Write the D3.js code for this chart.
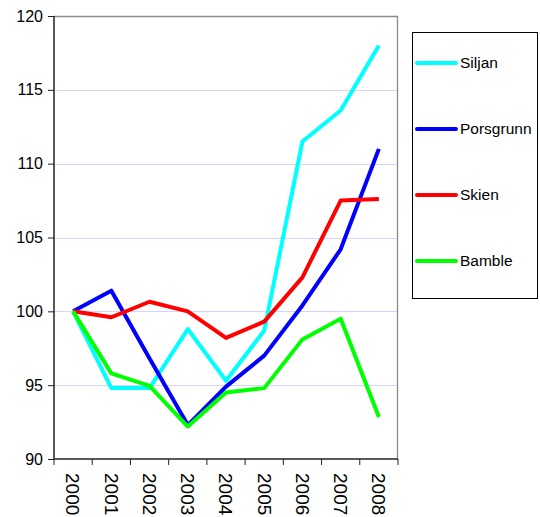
<!DOCTYPE html>
<html>
<head>
<meta charset="utf-8">
<script src="https://cdn.jsdelivr.net/npm/d3@7"></script>
<style>
  body { margin: 0; background: #fff; }
  text { font-family: "Liberation Sans", Arial, sans-serif; fill: #000; }
</style>
</head>
<body>
<div id="chart"></div>
<script>
// chart data
var years = ["2000", "2001", "2002", "2003", "2004", "2005", "2006", "2007", "2008"];
var seriesNames = ["Siljan", "Porsgrunn", "Skien", "Bamble"];
var seriesColors = ["#00ffff", "#0000ff", "#ff0000", "#00ff00"];
var siljan = [100, 94.8, 94.8, 98.8, 95.3, 98.7, 111.5, 113.6, 118.0];
var porsgrunn = [100, 101.4, 96.8, 92.3, 94.9, 97.0, 100.4, 104.2, 111.0];
var skien = [100, 99.6, 100.65, 100.0, 98.2, 99.3, 102.3, 107.5, 107.6];
var bamble = [100, 95.8, 94.95, 92.2, 94.5, 94.8, 98.1, 99.5, 92.85];
var yTicks = [90, 95, 100, 105, 110, 115, 120];

var allSeries = [siljan, porsgrunn, skien, bamble];

var svgWidth = 540, svgHeight = 517;
var margin = { top: 16, left: 54, right: 142, bottom: 58 };
var width = svgWidth - margin.left - margin.right;   // 344
var height = svgHeight - margin.top - margin.bottom; // 443

var svg = d3.select("#chart").append("svg")
  .attr("width", svgWidth)
  .attr("height", svgHeight);

var chartGroup = svg.append("g")
  .attr("transform", `translate(${margin.left}, ${margin.top})`);

var xScale = d3.scaleBand().domain(years).range([0, width]);
var yScale = d3.scaleLinear().domain([90, 120]).range([height, 0]);

// gridlines
chartGroup.selectAll(".grid")
  .data(yTicks.filter(d => d > 90 && d < 120))
  .enter().append("line")
  .attr("x1", 0).attr("x2", width)
  .attr("y1", d => Math.round(yScale(d)) + 0.5)
  .attr("y2", d => Math.round(yScale(d)) + 0.5)
  .attr("stroke", "#d4d4ff")
  .attr("stroke-width", 1);

// top and right plot border
chartGroup.append("path")
  .attr("d", `M0,0.5H${width - 0.5}V${height}`)
  .attr("fill", "none")
  .attr("stroke", "#8c8c8c")
  .attr("stroke-width", 1.3);

// lines
var line = d3.line()
  .x((d, i) => xScale(years[i]) + xScale.bandwidth() / 2)
  .y(d => yScale(d));

chartGroup.selectAll(".series")
  .data(allSeries)
  .enter().append("path")
  .attr("d", d => line(d))
  .attr("fill", "none")
  .attr("stroke", (d, i) => seriesColors[i])
  .attr("stroke-width", 4)
  .attr("stroke-linejoin", "round");

// y axis
var yAxis = chartGroup.append("g")
  .call(d3.axisLeft(yScale).tickValues(yTicks).tickSize(6).tickPadding(5));
yAxis.select(".domain").attr("stroke", "#222").attr("stroke-width", 1.5).attr("d", `M0,0V${height}`);
yAxis.selectAll(".tick line").attr("stroke", "#222");
yAxis.selectAll("text").style("font-size", "16px");

// x axis with ticks on band boundaries
var xAxis = chartGroup.append("g")
  .attr("transform", `translate(0, ${height})`);
xAxis.append("line")
  .attr("x1", 0).attr("x2", width)
  .attr("stroke", "#222").attr("stroke-width", 1.5);
xAxis.selectAll(".xtick")
  .data(years.concat(["end"]))
  .enter().append("line")
  .attr("x1", (d, i) => i < years.length ? xScale(d) : width)
  .attr("x2", (d, i) => i < years.length ? xScale(d) : width)
  .attr("y1", 0).attr("y2", 6)
  .attr("stroke", "#222");
xAxis.selectAll(".xlabel")
  .data(years)
  .enter().append("text")
  .attr("transform", d => `translate(${xScale(d) + xScale.bandwidth() / 2}, 14) rotate(90)`)
  .attr("dy", "0.35em")
  .style("font-size", "19px")
  .text(d => d);

// legend
var legend = svg.append("g").attr("transform", "translate(412, 32)");
legend.append("rect")
  .attr("x", 0.5).attr("y", 0.5)
  .attr("width", 125).attr("height", 266)
  .attr("fill", "#fff")
  .attr("stroke", "#000")
  .attr("stroke-width", 1);

var legendItems = legend.selectAll(".item")
  .data(seriesNames)
  .enter().append("g")
  .attr("transform", (d, i) => `translate(0, ${31 + i * 66})`);
legendItems.append("line")
  .attr("x1", 5).attr("x2", 44)
  .attr("stroke", (d, i) => seriesColors[i])
  .attr("stroke-width", 4)
  .attr("stroke-linecap", "round");
legendItems.append("text")
  .attr("x", 48)
  .attr("dy", "0.35em")
  .style("font-size", "15.5px")
  .text(d => d);
</script>
</body>
</html>
